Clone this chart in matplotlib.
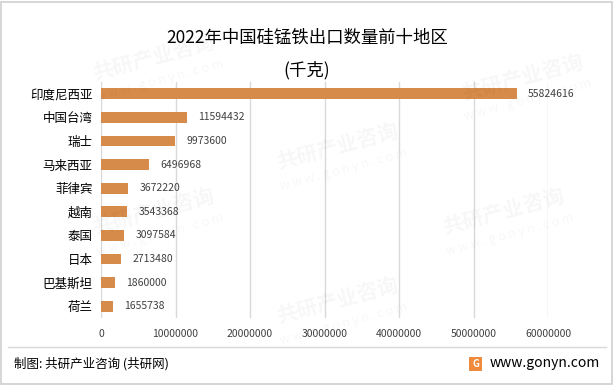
import matplotlib
matplotlib.use("Agg")
import matplotlib.pyplot as plt
from matplotlib.patches import Rectangle
from matplotlib.lines import Line2D

plt.rcParams['font.family'] = ['Noto Sans CJK SC', 'DejaVu Sans']

categories = ["印度尼西亚", "中国台湾", "瑞士", "马来西亚", "菲律宾", "越南", "泰国", "日本", "巴基斯坦", "荷兰"]
values = [55824616, 11594432, 9973600, 6496968, 3672220, 3543368, 3097584, 2713480, 1860000, 1655738]
xticks = [0, 10000000, 20000000, 30000000, 40000000, 50000000, 60000000]

W, H = 614, 385
fig = plt.figure(figsize=(W / 100, H / 100), dpi=100)
fig.patch.set_facecolor("white")

# outer frame
fig.add_artist(Rectangle((1 / W, 1 / H), (W - 3) / W, (H - 3) / H, transform=fig.transFigure,
                         fill=False, edgecolor="#d0d0d0", linewidth=1.2))

# faint watermarks
for (wx, wy) in [(0.25, 0.85), (0.55, 0.62), (0.85, 0.80), (0.25, 0.45),
                 (0.82, 0.45), (0.55, 0.22)]:
    fig.text(wx, wy, "共研产业咨询", fontsize=15, color="#000000", alpha=0.035,
             rotation=15, ha="center", va="center", fontweight="bold")
    fig.text(wx + 0.01, wy - 0.06, "w w w . g o n y n . c o m", fontsize=9, color="#000000",
             alpha=0.035, rotation=15, ha="center", va="center")

ax = fig.add_axes([101 / W, 1 - 318 / H, (548 - 101) / W, (318 - 82) / H])
ypos = list(range(len(categories)))
ax.barh(ypos, values, height=0.45, color="#D68B4A", zorder=3)
ax.set_ylim(len(categories) - 0.5, -0.5)
ax.set_xlim(0, 60000000)
ax.set_xticks(xticks)
ax.set_xticklabels([str(v) for v in xticks], fontsize=7.5, color="#404040")
ax.set_yticks(ypos)
ax.set_yticklabels(categories, fontsize=9, color="#000000")
ax.tick_params(axis="both", length=0)
ax.tick_params(axis="x", pad=8)
ax.tick_params(axis="y", pad=6)
ax.grid(axis="x", color="#d9d9d9", linewidth=1, zorder=0)
for s in ax.spines.values():
    s.set_visible(False)
ax.set_facecolor("none")

for y, v in zip(ypos, values):
    ax.text(v + 1500000, y, str(v), va="center", ha="left", fontsize=7.5, color="#404040")

fig.text(0.5, 1 - 38 / H, "2022年中国硅锰铁出口数量前十地区", ha="center", va="center",
         fontsize=12.5, color="#000000")
fig.text(0.5, 1 - 70 / H, "(千克)", ha="center", va="center", fontsize=12.5, color="#000000")

# footer
fig.add_artist(Line2D([8 / W, 606 / W], [1 - 347 / H, 1 - 347 / H], transform=fig.transFigure,
                      color="#d9d9d9", linewidth=1))
fig.text(14 / W, 1 - 364 / H, "制图: 共研产业咨询 (共研网)", ha="left", va="center",
         fontsize=9, color="#000000")
fig.add_artist(Rectangle((469 / W, 1 - 371 / H), 13 / W, 14 / H, transform=fig.transFigure,
                         facecolor="#F08A3C", edgecolor="none"))
fig.text(475.5 / W, 1 - 364 / H, "G", ha="center", va="center", fontsize=7, color="white",
         fontweight="bold")
fig.text(490 / W, 1 - 363 / H, "www.gonyn.com", ha="left", va="center", fontsize=10,
         color="#000000")

fig.savefig("out.png", dpi=100)
